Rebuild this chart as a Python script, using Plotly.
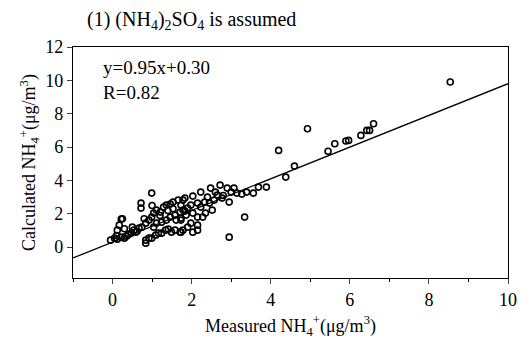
import plotly.graph_objects as go

# Measured vs calculated NH4+ (ug/m3)
measured = [
    -0.05, 0.05, 0.12, 0.22, 0.30, 0.35, 0.47, 0.54, 0.59, 0.67, 0.74, 0.84, 0.92, 0.99, 1.04,
    1.11, 1.21, 1.29, 1.36, 1.46, 1.53, 1.66, 1.78, 1.73, 0.84, 0.92, 0.99, 1.09, 1.16, 1.24,
    1.34, 1.41, 1.49, 1.58, 1.71, 1.78, 1.04, 1.11, 1.24, 1.36, 1.46, 1.58, 1.61, 1.73, 1.71,
    1.83, 1.53, 0.99, 0.72, 0.72, 0.22, 0.17, 0.12, 0.25, 0.84, 2.72, 2.48, 2.23, 2.03, 1.83,
    2.90, 3.07, 3.14, 3.27, 3.39, 3.56, 3.69, 3.89, 2.95, 2.65, 2.77, 2.57, 2.45, 2.33, 2.23,
    2.15, 1.98, 1.90, 1.78, 2.52, 2.35, 2.28, 2.15, 2.03, 1.86, 1.73, 1.98, 2.15, 1.90, 1.73,
    2.03, 2.15, 3.34, 2.95, 4.20, 4.38, 4.60, 4.93, 5.45, 5.62, 5.90, 5.97, 6.28, 6.43, 6.50,
    6.60, 8.54, 0.40, 0.62, 0.10, 0.30, 0.80, 1.00, 1.20, 2.40, 2.60, 2.80, 3.00, 1.40, 0.50,
]
calculated = [
    0.42, 0.54, 0.48, 0.60, 0.54, 0.66, 0.84, 1.02, 0.90, 1.14, 1.20, 1.44, 1.62, 1.80, 2.04,
    2.22, 2.10, 2.40, 2.52, 2.58, 2.70, 2.82, 2.82, 2.52, 0.42, 0.54, 0.54, 0.72, 0.84, 0.84,
    1.02, 1.08, 0.90, 1.02, 0.90, 1.02, 1.20, 1.44, 1.50, 1.62, 1.80, 1.92, 1.62, 1.74, 2.10,
    2.16, 2.30, 3.24, 2.64, 2.34, 1.68, 1.32, 1.02, 1.70, 0.24, 3.72, 3.54, 3.30, 3.06, 2.94,
    3.54, 3.54, 3.24, 3.18, 3.30, 3.24, 3.60, 3.60, 2.70, 3.12, 2.94, 2.82, 2.64, 2.70, 2.40,
    2.64, 2.52, 2.34, 2.22, 2.22, 2.04, 1.80, 1.80, 2.04, 1.92, 1.62, 1.44, 1.32, 1.20, 0.90,
    0.90, 1.02, 1.80, 0.60, 5.80, 4.20, 4.86, 7.10, 5.75, 6.20, 6.36, 6.40, 6.70, 7.00, 7.00,
    7.40, 9.90, 0.75, 0.95, 0.70, 1.10, 1.70, 2.50, 1.90, 3.00, 3.30, 3.10, 3.30, 2.20, 1.20,
]

# Regression line y = 0.95x + 0.30
slope, intercept = 0.95, 0.30
fit_x = [-1, 10]
fit_y = [slope * v + intercept for v in fit_x]

x_ticks = [0, 2, 4, 6, 8, 10]
y_ticks = [0, 2, 4, 6, 8, 10, 12]

font_family = "Liberation Serif"
fs = 18

fig = go.Figure()
fig.add_trace(go.Scatter(
    x=fit_x, y=fit_y, mode="lines",
    line=dict(color="black", width=1.3), showlegend=False, hoverinfo="skip",
))
fig.add_trace(go.Scatter(
    x=measured, y=calculated, mode="markers",
    marker=dict(symbol="circle-open", size=6, color="black", line=dict(width=1.6)),
    showlegend=False,
))

fig.update_layout(
    width=529, height=345,
    margin=dict(l=73, r=12, t=47, b=67),
    paper_bgcolor="white", plot_bgcolor="white",
    font=dict(family=font_family, size=fs, color="black"),
    title=dict(
        text="(1) (NH<sub>4</sub>)<sub>2</sub>SO<sub>4</sub> is assumed",
        x=87 / 529, xanchor="left", y=1 - 19 / 345, yanchor="middle",
        font=dict(family=font_family, size=20, color="black"),
    ),
    xaxis=dict(
        range=[-1, 10], tickvals=x_ticks, ticks="outside", ticklen=5, tickwidth=1,
        showline=True, linecolor="black", linewidth=1.2, mirror=True,
        showgrid=False, zeroline=False,
        minor=dict(tickvals=[-1, 1, 3, 5, 7, 9], ticks="outside", ticklen=3, tickcolor="black"),
        title=dict(text="Measured NH<sub>4</sub><sup>+</sup>(μg/m<sup>3</sup>)", standoff=10,
                   font=dict(family=font_family, size=fs)),
        tickfont=dict(family=font_family, size=fs),
    ),
    yaxis=dict(
        range=[-1.85, 12], tickvals=y_ticks, ticks="outside", ticklen=5, tickwidth=1,
        showline=True, linecolor="black", linewidth=1.2, mirror=True,
        showgrid=False, zeroline=False,
        title=dict(text="Calculated NH<sub>4</sub><sup>+</sup>(μg/m<sup>3</sup>)", standoff=4,
                   font=dict(family=font_family, size=fs)),
        tickfont=dict(family=font_family, size=fs),
    ),
    annotations=[
        dict(text=f"y={slope:.2f}x+{intercept:.2f}<br>R=0.82", xref="paper", yref="paper",
             x=0.065, y=0.855, xanchor="left", yanchor="middle", align="left", showarrow=False,
             font=dict(family=font_family, size=19, color="black")),
    ],
)

fig.write_html("out.html")
